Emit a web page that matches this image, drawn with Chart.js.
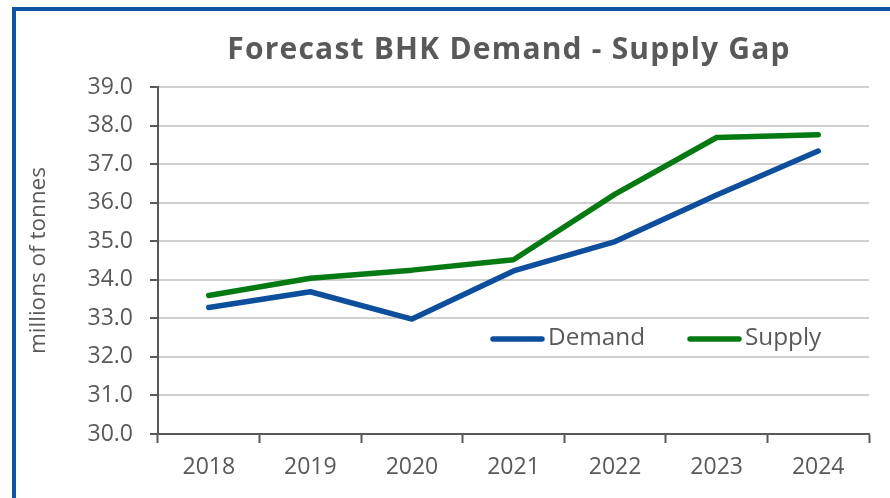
<!DOCTYPE html>
<html>
<head>
<meta charset="utf-8">
<script src="https://cdn.jsdelivr.net/npm/chart.js@4/dist/chart.umd.min.js"></script>
<style>
  html, body { margin: 0; padding: 0; background: #ffffff; }
  #wrap { position: relative; width: 890px; height: 498px; overflow: hidden; }
  #frame { position: absolute; left: 12px; top: 7px; width: 900px; height: 520px;
           border-left: 4px solid #0f54a2; border-top: 4px solid #0f54a2; box-sizing: border-box; }
  canvas { position: absolute; left: 0; top: 0; }
</style>
</head>
<body>
<div id="wrap">
  <canvas id="c" width="890" height="498"></canvas>
  <div id="frame"></div>
</div>
<script>
const categories = ['2018', '2019', '2020', '2021', '2022', '2023', '2024'];
const demand = [33.28, 33.69, 32.98, 34.23, 34.99, 36.2, 37.34];
const supply = [33.59, 34.04, 34.25, 34.52, 36.22, 37.69, 37.76];
const seriesNames = ['Demand', 'Supply'];
const yTitle = 'millions of tonnes';
const chartTitle = 'Forecast BHK Demand - Supply Gap';

const TXT = '#595959';
const FONT = '"Open Sans", "DejaVu Sans", sans-serif';

const titleAndLegend = {
  id: 'titleAndLegend',
  afterDraw(chart) {
    const ctx = chart.ctx;
    ctx.save();
    // title
    ctx.fillStyle = TXT;
    ctx.font = 'bold 30px ' + FONT;
    ctx.textAlign = 'center';
    ctx.textBaseline = 'alphabetic';
    if ('letterSpacing' in ctx) ctx.letterSpacing = '1.2px';
    ctx.fillText(chartTitle, 509, 58.8);
    if ('letterSpacing' in ctx) ctx.letterSpacing = '0px';
    // legend inside plot
    const y = 338;
    const xs = [490, 687];
    chart.data.datasets.forEach((ds, i) => {
      const x = xs[i];
      ctx.strokeStyle = ds.borderColor;
      ctx.lineWidth = 5.5;
      ctx.lineCap = 'round';
      ctx.beginPath();
      ctx.moveTo(x + 3, y + 1);
      ctx.lineTo(x + 52, y + 1);
      ctx.stroke();
      ctx.fillStyle = TXT;
      ctx.font = '24.3px ' + FONT;
      ctx.textBaseline = 'middle';
      ctx.textAlign = 'left';
      ctx.fillText(ds.label, x + 58, y);
    });
    ctx.restore();
  }
};

new Chart(document.getElementById('c'), {
  type: 'line',
  data: {
    labels: categories,
    datasets: [
      { label: seriesNames[0], data: demand, borderColor: '#0d4f9c', backgroundColor: '#0d4f9c',
        borderWidth: 5.5, pointRadius: 0, borderCapStyle: 'round', borderJoinStyle: 'round', tension: 0 },
      { label: seriesNames[1], data: supply, borderColor: '#067a12', backgroundColor: '#067a12',
        borderWidth: 5.5, pointRadius: 0, borderCapStyle: 'round', borderJoinStyle: 'round', tension: 0 }
    ]
  },
  options: {
    responsive: false,
    animation: false,
    devicePixelRatio: 1,
    layout: { padding: { left: 0, right: 21, top: 87, bottom: 0 } },
    plugins: {
      legend: { display: false },
      tooltip: { enabled: false },
      title: { display: false }
    },
    scales: {
      x: {
        offset: true,
        grid: { display: true, drawOnChartArea: false, drawTicks: true, offset: true,
                tickLength: 9, tickColor: TXT, tickWidth: 2 },
        border: { display: true, color: TXT, width: 2 },
        ticks: { color: TXT, font: { family: FONT, size: 23 }, padding: 11, maxRotation: 0 },
        afterFit(scale) { scale.height = 64; }
      },
      y: {
        min: 30, max: 39,
        grid: { color: '#d0d0d0', lineWidth: 2, tickColor: TXT, tickWidth: 2, tickLength: 8 },
        border: { display: true, color: TXT, width: 2 },
        ticks: { stepSize: 1, color: TXT, font: { family: FONT, size: 23 }, padding: 17,
                 callback: v => Number(v).toFixed(1) },
        title: { display: true, text: yTitle, color: TXT, font: { family: FONT, size: 22.5 },
                 padding: { top: 25, bottom: 0 } },
        afterFit(scale) { scale.width = 158; }
      }
    }
  },
  plugins: [titleAndLegend]
});
</script>
</body>
</html>
